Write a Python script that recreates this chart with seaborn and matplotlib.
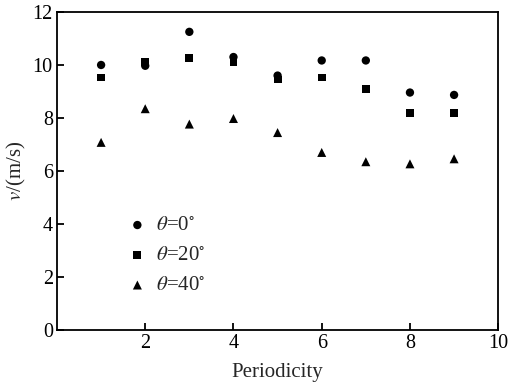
import matplotlib
matplotlib.use("Agg")
import matplotlib.pyplot as plt
import seaborn as sns
import pandas as pd

periodicity = [1, 2, 3, 4, 5, 6, 7, 8, 9]
v_theta0 = [10.0, 9.97, 11.25, 10.3, 9.6, 10.17, 10.17, 8.96, 8.87]
v_theta20 = [9.53, 10.1, 10.25, 10.12, 9.45, 9.53, 9.1, 8.2, 8.2]
v_theta40 = [7.08, 8.35, 7.77, 7.98, 7.45, 6.7, 6.35, 6.27, 6.46]
series_labels = [r"$\theta$=0$^{\circ}$", r"$\theta$=20$^{\circ}$", r"$\theta$=40$^{\circ}$"]
x_ticks = [2, 4, 6, 8, 10]
y_ticks = [0, 2, 4, 6, 8, 10, 12]

df = pd.concat([
    pd.DataFrame({"Periodicity": periodicity, "v": v_theta0, "series": series_labels[0]}),
    pd.DataFrame({"Periodicity": periodicity, "v": v_theta20, "series": series_labels[1]}),
    pd.DataFrame({"Periodicity": periodicity, "v": v_theta40, "series": series_labels[2]}),
])

sns.set_theme(style="ticks")
plt.rcParams["font.family"] = ["Liberation Serif", "DejaVu Serif"]
plt.rcParams["mathtext.fontset"] = "stix"
plt.rcParams["xtick.direction"] = "in"
plt.rcParams["ytick.direction"] = "in"

fig = plt.figure(figsize=(5.3, 3.86), dpi=100)
ax = fig.add_axes([0.1075, 0.145, 0.8325, 0.824])

markers = {series_labels[0]: "o", series_labels[1]: "s", series_labels[2]: "^"}
sizes = {series_labels[0]: 36, series_labels[1]: 32, series_labels[2]: 42}
for lab in series_labels:
    sub = df[df["series"] == lab]
    sns.scatterplot(data=sub, x="Periodicity", y="v", marker=markers[lab], s=sizes[lab],
                    color="black", edgecolor="none", ax=ax, label=lab)

ax.set_xlim(0, 10)
ax.set_ylim(0, 12)
ax.set_xticks(x_ticks)
ax.set_yticks(y_ticks)
for s in ax.spines.values():
    s.set_linewidth(1.3)
    s.set_color("black")
ax.tick_params(axis="both", labelsize=14.5, width=1.3, length=5, colors="black", pad=3)
ax.set_xlabel("Periodicity", fontsize=15, labelpad=7)
ax.set_ylabel(r"$\mathit{v}$/(m/s)", fontsize=15, labelpad=3)

leg = ax.legend(loc="upper left", bbox_to_anchor=(0.135, 0.385), frameon=False,
                fontsize=15, handletextpad=0.3, labelspacing=0.5, markerscale=1.0,
                handlelength=1.2, borderaxespad=0)

fig.savefig("out.png", dpi=100)
